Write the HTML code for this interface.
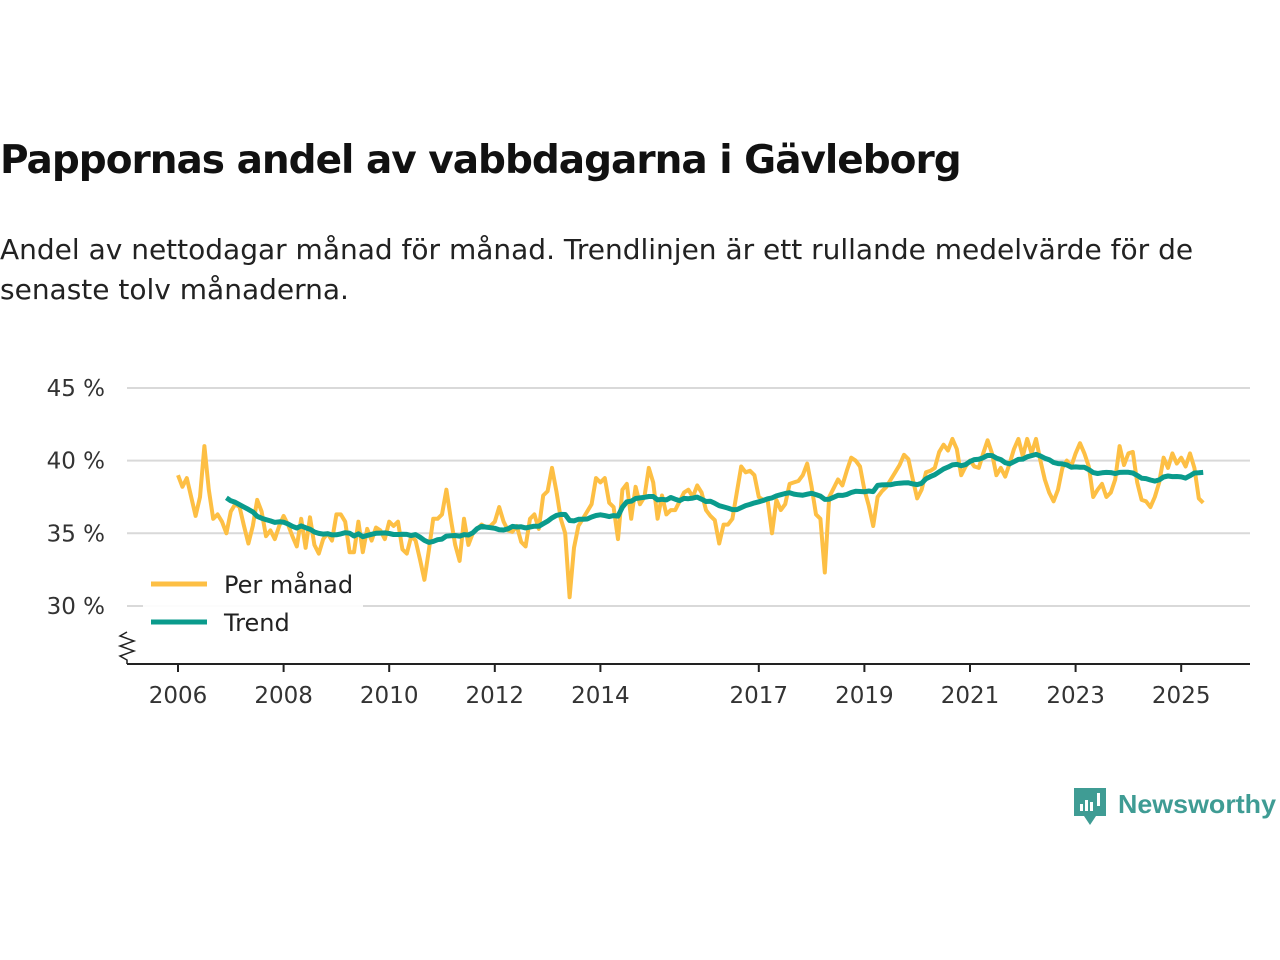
<!DOCTYPE html>
<html><head><meta charset="utf-8"><style>
body{margin:0;background:#fff;font-family:"Liberation Sans","DejaVu Sans",sans-serif;}
#t{position:absolute;left:0;top:138px;font-size:39px;font-weight:bold;color:#111;margin:0;font-family:"DejaVu Sans","Liberation Sans",sans-serif;letter-spacing:-1px}
#s{position:absolute;left:0;top:230px;width:1260px;font-size:28px;line-height:40px;color:#222;margin:0;font-family:"DejaVu Sans","Liberation Sans",sans-serif;letter-spacing:0px}
</style></head><body>
<h1 id="t">Pappornas andel av vabbdagarna i Gävleborg</h1>
<p id="s">Andel av nettodagar månad för månad. Trendlinjen är ett rullande medelvärde för de senaste tolv månaderna.</p>
<svg id="c" width="1280" height="960" style="position:absolute;left:0;top:0"></svg>
<script>
const yTicks=[30,35,40,45];
const xTickYears=[2006,2008,2010,2012,2014,2017,2019,2021,2023,2025];
const startYear=2006;
const monthly=[
39,38.2,38.8,37.5,36.2,37.5,41,38,36,36.3,35.8,35,
36.5,37,36.8,35.5,34.3,35.5,37.3,36.5,34.8,35.2,34.6,35.5,
36.2,35.6,34.8,34.1,36,34,36.1,34.2,33.6,34.6,35,34.5,
36.3,36.3,35.8,33.7,33.7,35.8,33.7,35.3,34.5,35.4,35.2,34.6,
35.8,35.5,35.8,33.9,33.6,34.8,34.5,33.2,31.8,33.8,36,36,
36.3,38,36,34.2,33.1,36,34.2,35,35.3,35.6,35.4,35.5,
35.8,36.8,35.8,35.2,35.1,35.5,34.4,34.1,36,36.3,35.3,37.6,
37.9,39.5,37.9,36,35,30.6,34,35.5,36,36.5,37,38.8,
38.5,38.8,37.1,36.8,34.6,38,38.4,36,38.2,37,37.5,39.5,
38.5,36,37.6,36.3,36.6,36.6,37.2,37.8,38,37.5,38.3,37.8,
36.6,36.2,35.9,34.3,35.6,35.6,36,37.8,39.6,39.2,39.3,39,
37.5,37.3,37.3,35,37.3,36.6,37,38.4,38.5,38.6,39,39.8,
38.2,36.3,36,32.3,37.5,38.1,38.7,38.3,39.3,40.2,40,39.6,
38,36.9,35.5,37.5,37.9,38.2,38.7,39.2,39.7,40.4,40.1,38.7,
37.4,38,39.2,39.3,39.5,40.6,41.1,40.7,41.5,40.8,39,39.6,
40,39.6,39.5,40.5,41.4,40.5,39,39.5,38.9,39.8,40.8,41.5,
40.3,41.5,40.5,41.5,40,38.7,37.8,37.2,38,39.5,40,39.6,
40.5,41.2,40.5,39.6,37.5,38,38.4,37.5,37.8,38.7,41,39.7,
40.5,40.6,38.5,37.3,37.2,36.8,37.5,38.5,40.2,39.5,40.5,39.8,
40.2,39.6,40.5,39.5,37.4,37.1];
const trend=monthly.map((v,i)=>i<11?null:monthly.slice(i-11,i+1).reduce((a,b)=>a+b,0)/12);
const NS='http://www.w3.org/2000/svg';
const svg=document.getElementById('c');
const X=t=>178+(t-2006)*52.8;
const Y=v=>388+(45-v)*14.53;
function el(tag,attrs,parent){const e=document.createElementNS(NS,tag);for(const k in attrs)e.setAttribute(k,attrs[k]);(parent||svg).appendChild(e);return e;}
yTicks.forEach(v=>{
 const g=el('line',{x1:127,x2:1250,y1:Y(v),y2:Y(v),stroke:'#d9d9d9','stroke-width':2});
 
 
 const t=el('text',{x:105,y:Y(v)+8,'text-anchor':'end','font-size':23,fill:'#333','font-family':'DejaVu Sans, sans-serif'});
 t.textContent=v+' %';
 
 
});
const ax=el('line',{x1:127,x2:1250,y1:664,y2:664,stroke:'#222','stroke-width':2});


const zz=el('polyline',{points:'127,632 120,636 134,641 120,646 134,651 120,656 127,660 127,664',fill:'none',stroke:'#222','stroke-width':1.5});


xTickYears.forEach(y=>{
 const tk=el('line',{x1:X(y),x2:X(y),y1:664,y2:672,stroke:'#222','stroke-width':2});
 
 
 const t=el('text',{x:X(y),y:703,'text-anchor':'middle','font-size':23,fill:'#333','font-family':'DejaVu Sans, sans-serif'});
 t.textContent=y;
 
 
});
const pm=monthly.map((v,i)=>X(startYear+i/12).toFixed(1)+','+Y(v).toFixed(1)).join(' ');
const l1=el('polyline',{points:pm,fill:'none',stroke:'#fdbf44','stroke-width':4,'stroke-linejoin':'round'});


const pt=trend.map((v,i)=>v==null?null:X(startYear+i/12).toFixed(1)+','+Y(v).toFixed(1)).filter(Boolean).join(' ');
const l2=el('polyline',{points:pt,fill:'none',stroke:'#0a9b8c','stroke-width':5,'stroke-linejoin':'round'});


const lg=el('g',{});


el('rect',{x:143,y:566,width:220,height:74,fill:'#fff','fill-opacity':0.9},lg);
el('line',{x1:151,x2:207,y1:584,y2:584,stroke:'#fdbf44','stroke-width':5},lg);
el('line',{x1:151,x2:207,y1:622,y2:622,stroke:'#0a9b8c','stroke-width':5},lg);
const a=el('text',{x:224,y:593,'font-size':24,fill:'#222','font-family':'DejaVu Sans, sans-serif'},lg);a.textContent='Per månad';


const b=el('text',{x:224,y:631,'font-size':24,fill:'#222','font-family':'DejaVu Sans, sans-serif'},lg);b.textContent='Trend';


const logo=el('g',{});


el('path',{d:'M1074,788 h32 v28 h-10 l-6,9 l-6,-9 h-10 z',fill:'#3f9c94'},logo);
el('rect',{x:1080,y:804,width:3,height:7,fill:'#fff'},logo);
el('rect',{x:1085,y:800,width:3,height:11,fill:'#fff'},logo);
el('rect',{x:1090,y:802,width:3,height:9,fill:'#fff'},logo);
el('rect',{x:1097,y:793,width:3,height:13,fill:'#fff'},logo);
const lt=el('text',{x:1118,y:813,'font-size':26,fill:'#3f9c94','font-family':'Liberation Sans, sans-serif','font-weight':'bold','textLength':158,'lengthAdjust':'spacingAndGlyphs'},logo);lt.textContent='Newsworthy';
</script>
</body></html>
